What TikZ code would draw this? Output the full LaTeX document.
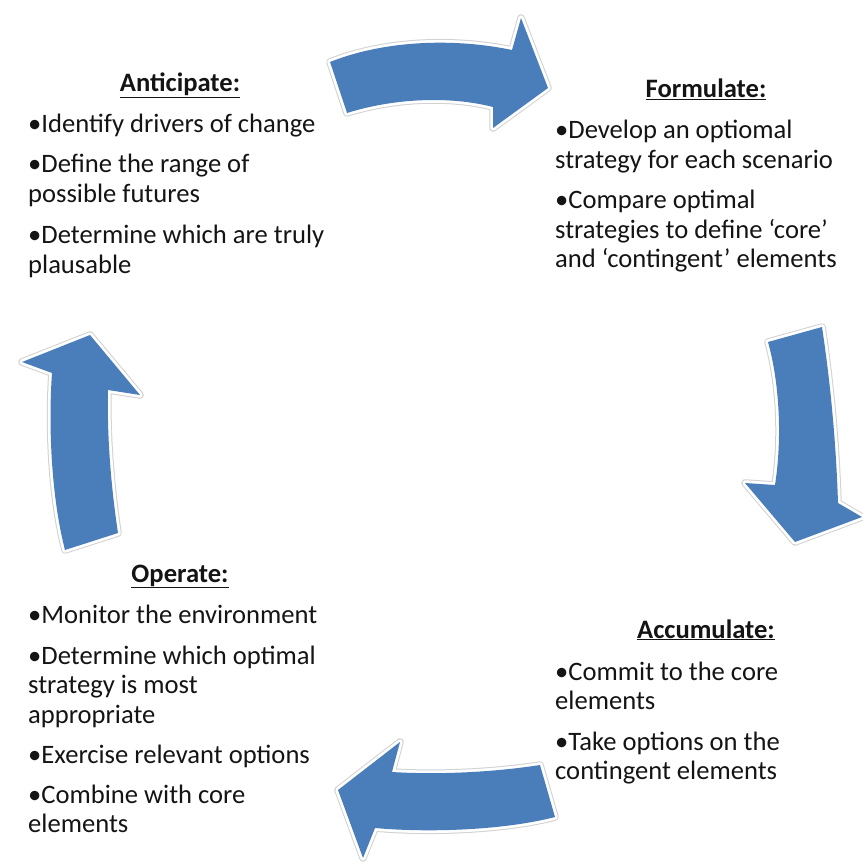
\documentclass[tikz,border=0pt]{standalone}
\usepackage{fontspec}
\setmainfont{Carlito}
\definecolor{arrowblue}{RGB}{74,126,187}
\definecolor{txt}{RGB}{20,20,20}
\begin{document}
\begin{tikzpicture}[x=1pt,y=-1pt,
  line/.style={anchor=base west,inner sep=0pt,text=txt,font=\fontsize{26.6}{30}\selectfont},
  head/.style={anchor=base,inner sep=0pt,text=txt,font=\fontsize{26.6}{30}\selectfont\bfseries},
  arrowfill/.style={fill=arrowblue},
  glowA/.style={draw=black!18,line width=7.5pt,line join=round},
  glowB/.style={draw=white,line width=5.5pt,line join=round}]
\useasboundingbox (0,0) rectangle (862,866);
% arrow outlines
\def\toparrow{(330,62) .. controls (385,40) and (455,38) .. (512,50) -- (521,18) -- (548,88) -- (493,128) -- (493,107) .. controls (450,96) and (395,98) .. (347,113) -- cycle}
\def\rightarrow{(768,342) -- (822,327) .. controls (830,380) and (836,440) .. (838,503) -- (862,517) -- (795,542) -- (745,483) -- (775,485) .. controls (782,440) and (780,385) .. (768,342) -- cycle}
\def\bottomarrow{(540,765) -- (555,817) .. controls (505,830) and (430,833) .. (375,828) -- (363,858) -- (338,790) -- (400,742) -- (392,772) .. controls (440,775) and (495,772) .. (540,765) -- cycle}
\def\leftarrow{(65,550) -- (118,533) .. controls (110,480) and (107,430) .. (108,390) -- (140,395) -- (90,335) -- (22,362) -- (52,373) .. controls (48,430) and (52,500) .. (65,550) -- cycle}
\foreach \p in {\toparrow,\rightarrow,\bottomarrow,\leftarrow}{
  \path[glowA] \p;
  \path[glowB] \p;
  \path[arrowfill] \p;
}
% Anticipate
\node[head] (ah) at (180,92) {\underline{Anticipate:}};
\node[line] (a1) at (28,133) {•Identify drivers of change};
\node[line] (a2) at (28,173) {•Define the range of};
\node[line] (a3) at (28,203) {possible futures};
\node[line] (a4) at (28,244) {•Determine which are truly};
\node[line] (a5) at (28,273) {plausable};
% Formulate
\node[head] (fh) at (706,98) {\underline{Formulate:}};
\node[line] (f1) at (555,139) {•Develop an optiomal};
\node[line] (f2) at (555,169) {strategy for each scenario};
\node[line] (f3) at (555,209) {•Compare optimal};
\node[line] (f4) at (555,239) {strategies to define ‘core’};
\node[line] (f5) at (555,268) {and ‘contingent’ elements};
% Accumulate
\node[head] (ch) at (706,638) {\underline{Accumulate:}};
\node[line] (c1) at (555,680) {•Commit to the core};
\node[line] (c2) at (555,709) {elements};
\node[line] (c3) at (555,750) {•Take options on the};
\node[line] (c4) at (555,779) {contingent elements};
% Operate
\node[head] (oh) at (180,582) {\underline{Operate:}};
\node[line] (o1) at (28,623) {•Monitor the environment};
\node[line] (o2) at (28,664) {•Determine which optimal};
\node[line] (o3) at (28,693) {strategy is most};
\node[line] (o4) at (28,723) {appropriate};
\node[line] (o5) at (28,763) {•Exercise relevant options};
\node[line] (o6) at (28,803) {•Combine with core};
\node[line] (o7) at (28,832) {elements};
\end{tikzpicture}
\end{document}
